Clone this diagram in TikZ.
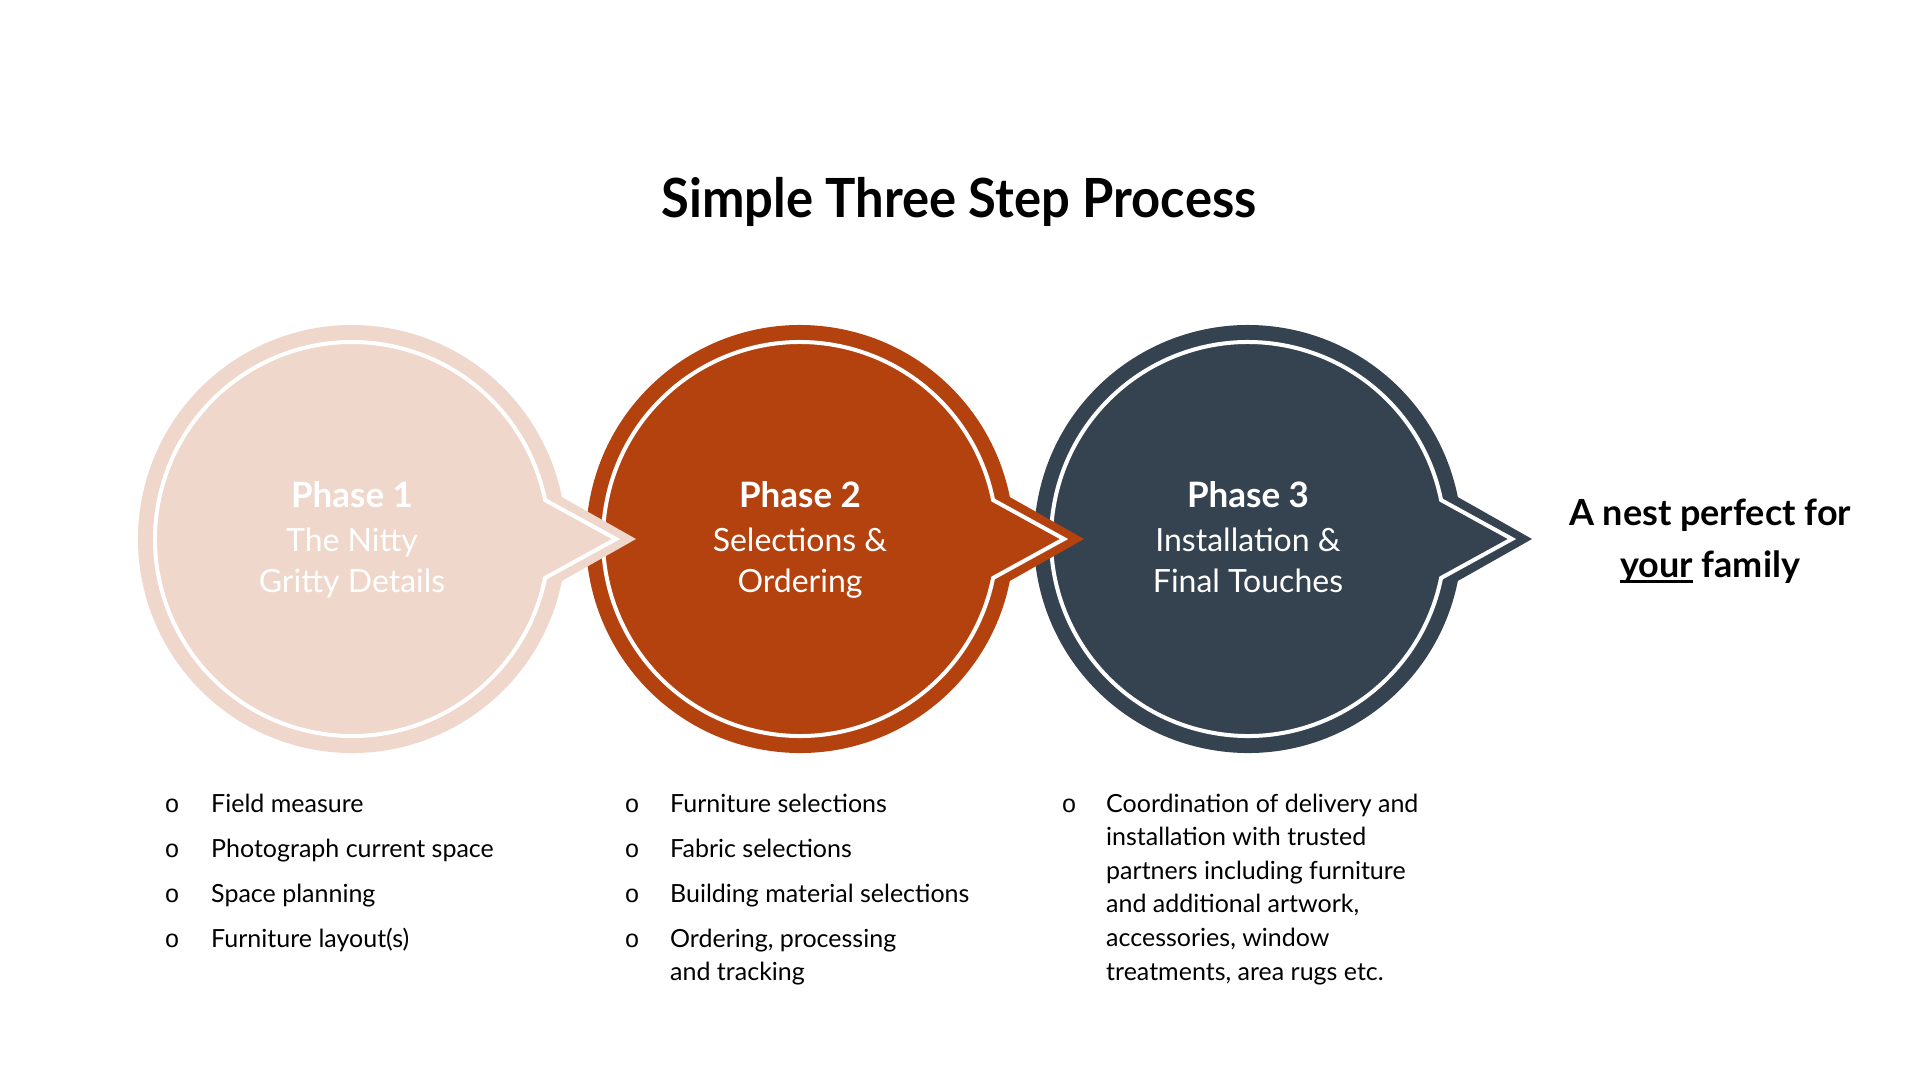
\documentclass[tikz,border=0pt]{standalone}
\usepackage{fontspec}
\setmainfont{Lato}
\newfontfamily\titlefont[FakeStretch=0.94]{Lato}
\newfontfamily\bulfont{Liberation Mono}
\definecolor{pinkc}{HTML}{EFD7CB}
\definecolor{rustc}{HTML}{B4420F}
\definecolor{slatec}{HTML}{354351}
\newcommand\myul[1]{\setbox0\hbox{#1}\rlap{\rule[-6pt]{\wd0}{2.6pt}}\box0\relax}
\newcommand\bubble[3]{%
  \fill[#3] (#1,#2) ++(11.3:214) arc[start angle=11.3,end angle=348.7,radius=214] -- (#1+284,#2) -- cycle;
  \draw[white,line width=4pt,line join=miter] (#1,#2) ++(11.4:197) arc[start angle=11.4,end angle=348.6,radius=197] -- (#1+264,#2) -- cycle;
}
\tikzset{
  titletxt/.style={font=\titlefont\fontsize{54}{60}\selectfont\bfseries, anchor=base, inner sep=0pt},
  phasehead/.style={font=\fontsize{35}{42}\selectfont\bfseries, text=white, anchor=base, inner sep=0pt},
  phasesub/.style={font=\fontsize{32}{40}\selectfont, text=white, anchor=base, inner sep=0pt},
  item/.style={font=\fontsize{25}{30}\selectfont, anchor=base west, inner sep=0pt},
  bul/.style={font=\bulfont\fontsize{25}{28}\selectfont, anchor=base, inner sep=0pt},
  nest/.style={font=\fontsize{36}{42}\selectfont\bfseries, anchor=base, inner sep=0pt}
}
\begin{document}
\begin{tikzpicture}[x=1pt,y=-1pt]
\fill[white] (0,0) rectangle (1920,1080);
\useasboundingbox (0,0) rectangle (1920,1080);

\node[titletxt] (title) at (959,217) {Simple Three Step Process};

\bubble{1248}{539}{slatec}
\bubble{800}{539}{rustc}
\bubble{352}{539}{pinkc}

\node[phasehead] (p1a) at (352,507) {Phase 1};
\node[phasesub] (p1b) at (352,551) {The Nitty};
\node[phasesub] (p1c) at (352,592) {Gritty Details};

\node[phasehead] (p2a) at (800,507) {Phase 2};
\node[phasesub] (p2b) at (800,551) {Selections \&};
\node[phasesub] (p2c) at (800,592) {Ordering};

\node[phasehead] (p3a) at (1248,507) {Phase 3};
\node[phasesub] (p3b) at (1248,551) {Installation \&};
\node[phasesub] (p3c) at (1248,592) {Final Touches};

\node[nest] (n1) at (1710,525) {A nest perfect for};
\node[nest] (n2) at (1710,577) {\myul{your} family};

% column 1
\node[bul] (b11) at (172,812) {o};
\node[bul] (b12) at (172,857) {o};
\node[bul] (b13) at (172,902) {o};
\node[bul] (b14) at (172,947) {o};
\node[item] (t11) at (211,812) {Field measure};
\node[item] (t12) at (211,857) {Photograph current space};
\node[item] (t13) at (211,902) {Space planning};
\node[item] (t14) at (211,947) {Furniture layout(s)};

% column 2
\node[bul] (b21) at (632,812) {o};
\node[bul] (b22) at (632,857) {o};
\node[bul] (b23) at (632,902) {o};
\node[bul] (b24) at (632,947) {o};
\node[item] (t21) at (670,812) {Furniture selections};
\node[item] (t22) at (670,857) {Fabric selections};
\node[item] (t23) at (670,902) {Building material selections};
\node[item] (t24) at (670,947) {Ordering, processing};
\node[item] (t25) at (670,980) {and tracking};

% column 3
\node[bul] (b31) at (1069,812) {o};
\node[item] (t31) at (1106,812) {Coordination of delivery and};
\node[item] (t32) at (1106,845.6) {installation with trusted};
\node[item] (t33) at (1106,879.2) {partners including furniture};
\node[item] (t34) at (1106,912.8) {and additional artwork,};
\node[item] (t35) at (1106,946.4) {accessories, window};
\node[item] (t36) at (1106,980) {treatments, area rugs etc.};
\end{tikzpicture}
\end{document}
